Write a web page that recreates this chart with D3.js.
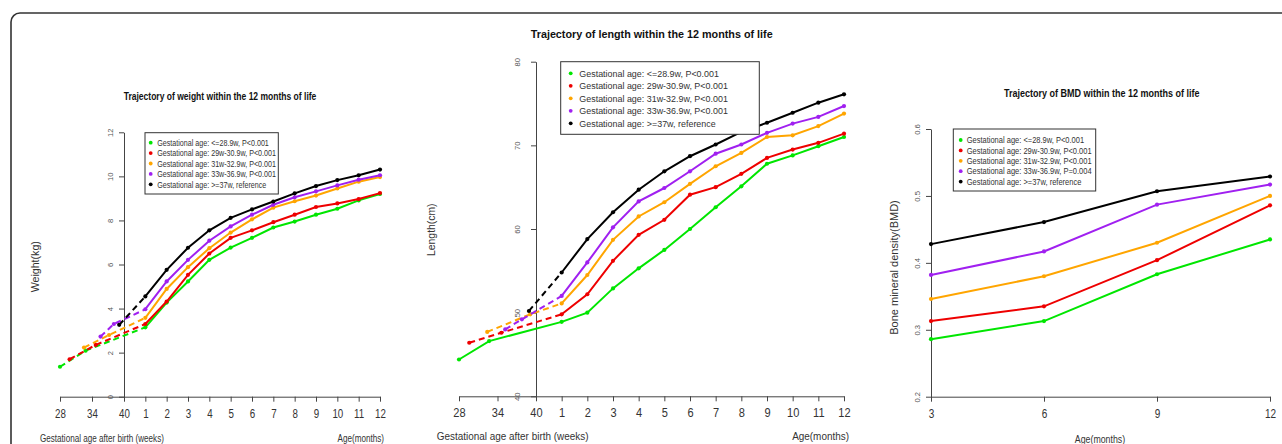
<!DOCTYPE html>
<html>
<head>
<meta charset="utf-8">
<script src="https://cdn.jsdelivr.net/npm/d3@7"></script>
<style>
  body { margin: 0; background: #fff; }
  svg { display: block; font-family: "Liberation Sans", Arial, sans-serif; }
</style>
</head>
<body>
<svg width="1282" height="444"></svg>
<script>
// ---- data ----
var groupNames = [
  "Gestational age: <=28.9w, P<0.001",
  "Gestational age: 29w-30.9w, P<0.001",
  "Gestational age: 31w-32.9w, P<0.001",
  "Gestational age: 33w-36.9w, P<0.001",
  "Gestational age: >=37w, reference"
];
var bmdGroupNames = [
  "Gestational age: <=28.9w, P<0.001",
  "Gestational age: 29w-30.9w, P<0.001",
  "Gestational age: 31w-32.9w, P<0.001",
  "Gestational age: 33w-36.9w, P=0.004",
  "Gestational age: >=37w, reference"
];
var groupColors = ["#00e600", "#ee0000", "#ffa500", "#a020f0", "#000000"];

var weekTicks = [28, 34, 40];
var months = [1, 2, 3, 4, 5, 6, 7, 8, 9, 10, 11, 12];

// [gestational week, value] before month 1
var weightWeeks = [
  [[28, 1.36], [32.8, 2.09]],
  [[29.8, 1.70], [34.7, 2.35]],
  [[32.5, 2.23], [37.2, 2.80]],
  [[35.6, 2.73], [38.1, 3.30]],
  [[39.1, 3.26]]
];
var weightMonths = [
  [3.15, 4.27, 5.23, 6.21, 6.77, 7.21, 7.68, 7.95, 8.26, 8.53, 8.91, 9.20],
  [3.30, 4.32, 5.53, 6.50, 7.21, 7.55, 7.92, 8.26, 8.61, 8.77, 8.97, 9.24],
  [3.58, 4.89, 5.88, 6.74, 7.45, 8.05, 8.58, 8.87, 9.13, 9.45, 9.76, 9.97],
  [3.97, 5.23, 6.21, 7.08, 7.73, 8.26, 8.71, 9.05, 9.32, 9.59, 9.85, 10.05],
  [4.55, 5.76, 6.76, 7.55, 8.12, 8.50, 8.86, 9.23, 9.56, 9.83, 10.05, 10.31]
];

var lengthWeeks = [
  [[28, 44.4], [32.7, 46.6]],
  [[29.6, 46.4], [34.6, 47.6]],
  [[32.4, 47.7], [39.1, 49.8]],
  [[35.2, 48.0], [37.8, 49.2]],
  [[38.9, 50.2]]
];
var lengthMonths = [
  [48.9, 50.0, 52.9, 55.3, 57.5, 60.0, 62.6, 65.1, 67.8, 68.8, 69.9, 71.0],
  [49.8, 52.2, 56.2, 59.3, 61.1, 64.1, 65.0, 66.6, 68.5, 69.5, 70.3, 71.4],
  [51.1, 54.5, 58.7, 61.5, 63.2, 65.4, 67.5, 69.1, 71.0, 71.2, 72.3, 73.8],
  [52.0, 56.0, 60.2, 63.3, 64.9, 66.9, 69.0, 70.1, 71.5, 72.6, 73.4, 74.7],
  [54.8, 58.8, 62.0, 64.7, 66.9, 68.7, 70.1, 71.6, 72.7, 73.9, 75.1, 76.1]
];

var bmdMonths = [3, 6, 9, 12];
var bmdValues = [
  [0.286, 0.313, 0.383, 0.435],
  [0.313, 0.335, 0.404, 0.486],
  [0.346, 0.380, 0.430, 0.500],
  [0.382, 0.417, 0.487, 0.517],
  [0.428, 0.461, 0.507, 0.529]
];

// ---- helpers ----
var svg = d3.select("svg");

// gestational weeks share the month axis: 4 weeks per unit, 40w at 0
function weekPos(w) { return (w - 40) / 4; }

// the source figure is squashed sideways, so text is condensed
function squeeze(sel, k) {
  sel.each(function() {
    var n = this.getComputedTextLength();
    d3.select(this).attr("textLength", n * k).attr("lengthAdjust", "spacingAndGlyphs");
  });
}

// outer frame
svg.append("rect")
  .attr("x", 11).attr("y", 13)
  .attr("width", 1320).attr("height", 480)
  .attr("rx", 9).attr("ry", 9)
  .attr("fill", "none").attr("stroke", "#333").attr("stroke-width", 1.6);

function drawPanel(p) {
  var g = svg.append("g");
  var x = d3.scaleLinear().domain(p.xDomain).range(p.xRange);
  var y = d3.scaleLinear().domain(p.yDomain).range(p.yRange);
  var k = p.squeeze;

  // x axis
  var xa = g.append("g")
    .attr("transform", "translate(0," + y(p.yDomain[0]) + ")")
    .call(d3.axisBottom(x).tickValues(p.xTicks).tickFormat(p.xFormat).tickSize(5).tickSizeOuter(0));
  xa.select(".domain").attr("stroke", "#444");
  xa.selectAll(".tick line").attr("stroke", "#444");
  xa.selectAll(".tick text")
    .attr("y", 21).attr("dy", 0)
    .attr("fill", "#333")
    .style("font-size", p.tickFont + "px")
    .call(squeeze, k);

  // y axis
  var ya = g.append("g")
    .attr("transform", "translate(" + x(p.yAxisAt) + ",0)")
    .call(d3.axisLeft(y).tickValues(p.yTicks).tickFormat(p.yFormat).tickSize(5).tickSizeOuter(0));
  ya.select(".domain").attr("stroke", "#444");
  ya.selectAll(".tick line").attr("stroke", "#444");
  ya.selectAll(".tick text")
    .attr("x", 0).attr("y", 0).attr("dy", "0.35em")
    .attr("transform", "translate(" + p.yLabelOff + ",0) rotate(-90)")
    .attr("text-anchor", "middle")
    .attr("fill", "#555")
    .style("font-size", "7.6px");

  // series
  var line = d3.line().x(function(d) { return x(d[0]); }).y(function(d) { return y(d[1]); });
  p.series.forEach(function(s, i) {
    var col = groupColors[i];
    var main = p.xs.map(function(m, j) { return [m, s[j]]; });
    var pre = [];
    if (p.pre) {
      pre = p.pre[i].map(function(d) { return [weekPos(d[0]), d[1]]; });
      g.append("path")
        .attr("d", line(pre.concat([main[0]])))
        .attr("fill", "none").attr("stroke", col).attr("stroke-width", 2)
        .attr("stroke-dasharray", p.preDash[i] ? "6,4" : null);
    }
    g.append("path")
      .attr("d", line(main))
      .attr("fill", "none").attr("stroke", col).attr("stroke-width", 2);
    g.selectAll(null)
      .data(pre.concat(main))
      .enter().append("circle")
      .attr("cx", function(d) { return x(d[0]); })
      .attr("cy", function(d) { return y(d[1]); })
      .attr("r", 2.1)
      .attr("fill", col);
  });

  // legend
  var L = p.legend;
  g.append("rect")
    .attr("x", L.x).attr("y", L.y).attr("width", L.w).attr("height", L.h)
    .attr("fill", "#fff").attr("stroke", "#333").attr("stroke-width", 1);
  p.names.forEach(function(name, i) {
    var cy = L.y + L.first + i * L.step;
    g.append("circle").attr("cx", L.x + L.dot).attr("cy", cy).attr("r", 1.9).attr("fill", groupColors[i]);
    g.append("text")
      .attr("x", L.x + L.text).attr("y", cy).attr("dy", "0.35em")
      .attr("fill", "#333")
      .style("font-size", L.font + "px")
      .text(name)
      .call(squeeze, L.k);
  });

  // title
  g.append("text")
    .attr("x", p.title.x).attr("y", p.title.y)
    .attr("text-anchor", "middle")
    .style("font-size", p.title.font + "px").style("font-weight", "bold")
    .attr("fill", "#111")
    .text(p.title.text)
    .call(squeeze, p.title.k);

  // y label
  g.append("text")
    .attr("transform", "translate(" + p.yLab.x + "," + p.yLab.y + ") rotate(-90)")
    .attr("text-anchor", "middle").attr("dy", "0.35em")
    .style("font-size", p.yLab.font + "px")
    .attr("fill", "#333")
    .text(p.yLab.text);

  // bottom labels
  p.bottom.forEach(function(b) {
    g.append("text")
      .attr("x", b.x).attr("y", b.y)
      .attr("text-anchor", b.anchor)
      .style("font-size", b.font + "px")
      .attr("fill", "#333")
      .text(b.text)
      .call(squeeze, k);
  });
}

var gestTicks = weekTicks.map(weekPos).concat(months);
function gestFormat(d) { return d <= 0 ? String(40 + d * 4) : String(d); }

drawPanel({
  xDomain: [-3, 12], xRange: [60, 380],
  yDomain: [0, 12], yRange: [396.7, 132.3],
  xTicks: gestTicks, xFormat: gestFormat,
  yTicks: [0, 2, 4, 6, 8, 10, 12], yFormat: d3.format("d"),
  yAxisAt: 0, yLabelOff: -14,
  tickFont: 12.5, squeeze: 0.78,
  xs: months, series: weightMonths, pre: weightWeeks,
  preDash: [true, true, true, true, true],
  names: groupNames,
  legend: { x: 145, y: 132.7, w: 133.3, h: 61.3, first: 10, step: 10.4, dot: 5.7, text: 12.3, font: 9.4, k: 0.76 },
  title: { x: 220, y: 99.5, font: 10.4, k: 0.82, text: "Trajectory of weight within the 12 months of life" },
  yLab: { x: 35, y: 266.7, font: 10.6, text: "Weight(kg)" },
  bottom: [
    { x: 40, y: 442, anchor: "start", font: 10.4, text: "Gestational age after birth (weeks)" },
    { x: 384, y: 442, anchor: "end", font: 10.4, text: "Age(months)" }
  ]
});

drawPanel({
  xDomain: [-3, 12], xRange: [459, 844],
  yDomain: [40, 80], yRange: [396.3, 61.7],
  xTicks: gestTicks, xFormat: gestFormat,
  yTicks: [40, 50, 60, 70, 80], yFormat: d3.format("d"),
  yAxisAt: 0, yLabelOff: -18.5,
  tickFont: 12, squeeze: 0.92,
  xs: months, series: lengthMonths, pre: lengthWeeks,
  preDash: [false, true, true, true, true],
  names: groupNames,
  legend: { x: 560.7, y: 61.7, w: 198.6, h: 72.6, first: 11.6, step: 12.5, dot: 10, text: 18.6, font: 9.6, k: 0.93 },
  title: { x: 651.7, y: 37.8, font: 11, k: 0.98, text: "Trajectory of length within the 12 months of life" },
  yLab: { x: 431.7, y: 229.7, font: 10.4, text: "Length(cm)" },
  bottom: [
    { x: 436.7, y: 440.3, anchor: "start", font: 10.8, text: "Gestational age after birth (weeks)" },
    { x: 849, y: 440.3, anchor: "end", font: 10.8, text: "Age(months)" }
  ]
});

drawPanel({
  xDomain: [3, 12], xRange: [931, 1270],
  yDomain: [0.2, 0.6], yRange: [396.7, 129],
  xTicks: bmdMonths, xFormat: d3.format("d"),
  yTicks: [0.2, 0.3, 0.4, 0.5, 0.6], yFormat: d3.format(".1f"),
  yAxisAt: 3, yLabelOff: -13.3,
  tickFont: 12.5, squeeze: 0.8,
  xs: bmdMonths, series: bmdValues, pre: null,
  preDash: null,
  names: bmdGroupNames,
  legend: { x: 953.3, y: 129, w: 142.4, h: 62, first: 11, step: 10.4, dot: 7.4, text: 13.4, font: 9.4, k: 0.8 },
  title: { x: 1101.7, y: 96.5, font: 10.6, k: 0.85, text: "Trajectory of BMD within the 12 months of life" },
  yLab: { x: 894, y: 267.5, font: 11, text: "Bone mineral density(BMD)" },
  bottom: [
    { x: 1100, y: 443, anchor: "middle", font: 11, text: "Age(months)" }
  ]
});
</script>
</body>
</html>
